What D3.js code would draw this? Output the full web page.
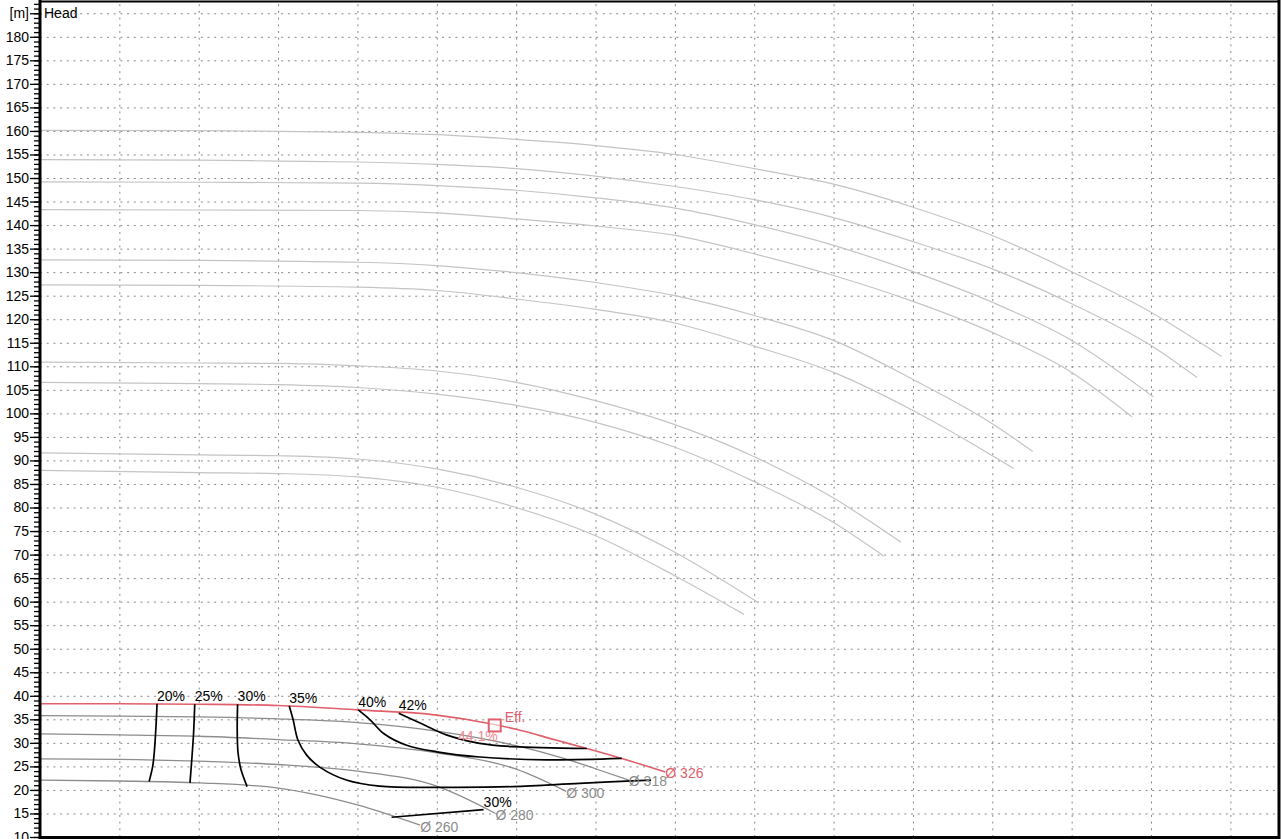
<!DOCTYPE html>
<html>
<head>
<meta charset="utf-8">
<script src="https://cdn.jsdelivr.net/npm/d3@7/dist/d3.min.js"></script>
<style>
body { margin: 0; background: #fff; }
text { font-family: "Liberation Sans", Arial, sans-serif; }
</style>
</head>
<body>
<script>
// pump curve data, [flow, head]
const headCurves = [
    [[0,160.1],[20,160.05],[30,159.9],[40,159.7],[50,159.2],[60,158.2],[70,156.9],[80,155],[90,152],[100,148.7],[110,143.8],[120,137.8],[130,130.1],[140,121.5],[148.9,112.1]],
    [[0,153.9],[20,153.8],[30,153.6],[40,153.4],[50,152.9],[60,152],[70,150.4],[80,148.2],[90,145.4],[100,141.6],[110,136.5],[120,130.7],[130,123.3],[140,114.4],[145.8,107.6]],
    [[0,149.2],[20,149.1],[40,148.9],[50,148.4],[60,147.4],[70,145.8],[80,143.6],[90,140.1],[100,135.7],[110,130.1],[120,123.6],[130,115.5],[140.3,103.5]],
    [[0,143.3],[20,143.2],[40,143.1],[50,142.6],[60,141.3],[70,139.8],[80,137.8],[90,133.9],[100,129.3],[110,123.8],[120,117.2],[130,108.7],[137.6,99.3]],
    [[0,132.6],[20,132.5],[40,132.1],[50,131.4],[60,129.9],[70,127.8],[80,125],[90,120.8],[100,115.5],[110,107.2],[120,97.8],[125.1,91.9]],
    [[0,127.3],[20,127.2],[40,126.8],[50,126.1],[60,124.3],[70,122.1],[80,119.2],[90,114.3],[100,108.7],[110,100.6],[116,95],[122.7,88.3]],
    [[0,110.9],[20,110.7],[30,110.6],[40,110.1],[50,109],[60,106.6],[70,102.7],[80,97.6],[90,90.8],[100,82],[108.5,72.6]],
    [[0,106.6],[20,106.3],[30,106.1],[40,105.5],[50,104.1],[60,101.7],[70,98.1],[80,92.8],[90,85.5],[100,76.8],[106.3,69.7]],
    [[0,91.6],[20,91.2],[30,91],[40,90.3],[50,88.2],[60,84.3],[70,78.6],[80,70.5],[90.5,59.8]],
    [[0,87.9],[20,87.4],[30,87.2],[40,86.5],[50,84.3],[60,80],[70,74],[80,65.5],[88.7,57.3]]
];

const diaNames = ["Ø 326", "Ø 318", "Ø 300", "Ø 280", "Ø 260"];
const diaCurves = [
    [[0,38.3],[10,38.3],[20,38.2],[30,37.95],[40,37],[50,35.9],[57.3,33.9],[60,32.9],[65,30.6],[68.9,28.8],[73.3,26.7],[78.8,23.8]],
    [[0,35.8],[10,35.7],[20,35.5],[30,35.1],[40,34.3],[50,32.5],[60,29.4],[66,26.7],[70,24.5],[74.2,22.1]],
    [[0,31.9],[10,31.7],[20,31.4],[30,30.7],[40,29.8],[50,27.9],[60,24.4],[66.3,19.7]],
    [[0,26.6],[10,26.5],[20,26.1],[30,25.4],[40,24],[50,20.8],[57.4,15.0]],
    [[0,22.1],[10,21.9],[20,21.5],[30,20.4],[35,18.9],[40,16.8],[47.9,12.5]]
];

// iso-efficiency lines; labelAt = index of the point carrying the label
const effNames = ["20%", "25%", "30%", "35%", "40%", "42%", "30%"];
const effLabelAt = [0, 0, 0, 0, 0, 0, 1];
const effLines = [
    [[14.75,38.3],[14.6,33],[14.4,28],[14.2,25],[13.75,21.8]],
    [[19.5,38.25],[19.35,32],[19.15,27],[18.9,21.5]],
    [[24.9,38.2],[24.85,33],[24.95,28],[25.3,24.5],[26.1,20.7]],
    [[31.4,37.9],[31.9,34.9],[32.5,30.6],[33.6,27.4],[35.3,24.8],[38.6,22.1],[42.8,20.8],[51.2,20.55],[59.6,20.7],[68,21.4],[77,22.1]],
    [[40.1,37],[41.6,34.9],[43.3,32],[46.2,29.5],[50,28.1],[55.4,27],[63.8,26.4],[73.3,26.7]],
    [[45.2,36.3],[47.9,34.2],[51.2,31.7],[55.4,29.9],[59.6,29.2],[68.9,28.8]],
    [[44.3,14.2],[55.9,15.8]]
];

const bestPoint = [57.3, 33.7];
const bestLabel = "44.1%";

const yTickValues = [10,15,20,25,30,35,40,45,50,55,60,65,70,75,80,85,90,95,100,105,110,115,120,125,130,135,140,145,150,155,160,165,170,175,180,185];
const xGridValues = [10,20,30,40,50,60,70,80,90,100,110,120,130,140,150];

const W = 1281, H = 839;
const red = "#e0606c";

const svg = d3.select("body").append("svg")
    .attr("width", W)
    .attr("height", H);

const x = d3.scaleLinear().domain([0, 156]).range([40, 1278]);
const y = d3.scaleLinear().domain([10, 187.5]).range([837, 1.5]);

// grid
svg.append("g")
    .attr("transform", "translate(40,0)")
    .call(d3.axisLeft(y).tickValues(yTickValues.slice(1)).tickSize(-(1278 - 40)).tickFormat(""))
    .call(g => g.select(".domain").remove())
    .selectAll("line")
    .attr("stroke", "#888")
    .attr("stroke-dasharray", "2,4.7");

svg.append("g")
    .attr("transform", "translate(0,837)")
    .call(d3.axisBottom(x).tickValues(xGridValues).tickSize(-(837 - 1.5)).tickFormat(""))
    .call(g => g.select(".domain").remove())
    .selectAll("line")
    .attr("stroke", "#888")
    .attr("stroke-dasharray", "2,4.7");

const lineX = d3.line().x(d => x(d[0])).y(d => y(d[1])).curve(d3.curveMonotoneX);
const lineC = d3.line().x(d => x(d[0])).y(d => y(d[1])).curve(d3.curveCatmullRom.alpha(0.5));

// head curves
svg.append("g").selectAll("path")
    .data(headCurves)
    .join("path")
    .attr("d", lineX)
    .attr("fill", "none")
    .attr("stroke", "#c4c4c4")
    .attr("stroke-width", 1.2);

// diameter curves
svg.append("g").selectAll("path")
    .data(diaCurves)
    .join("path")
    .attr("d", lineX)
    .attr("fill", "none")
    .attr("stroke", (d, i) => i == 0 ? red : "#8c8c8c")
    .attr("stroke-width", (d, i) => i == 0 ? 1.6 : 1.3);

// efficiency lines
svg.append("g").selectAll("path")
    .data(effLines)
    .join("path")
    .attr("d", lineC)
    .attr("fill", "none")
    .attr("stroke", "#000")
    .attr("stroke-width", 1.7);

svg.append("g").selectAll("text")
    .data(effLines)
    .join("text")
    .attr("x", (d, i) => x(d[effLabelAt[i]][0]))
    .attr("y", (d, i) => y(d[effLabelAt[i]][1]) - 3)
    .attr("font-size", 14)
    .attr("fill", "#000")
    .text((d, i) => effNames[i]);

// diameter labels at curve ends
svg.append("g").selectAll("text")
    .data(diaCurves)
    .join("text")
    .attr("x", d => x(d[d.length - 1][0]))
    .attr("y", d => y(d[d.length - 1][1]))
    .attr("dy", "0.45em")
    .attr("font-size", 14)
    .attr("fill", (d, i) => i == 0 ? red : "#8c8c8c")
    .text((d, i) => diaNames[i]);

// best efficiency point
svg.append("text")
    .attr("x", x(bestPoint[0]) + 3)
    .attr("y", y(bestPoint[1]) + 16)
    .attr("text-anchor", "end")
    .attr("font-size", 14)
    .attr("fill", "#ee8a92")
    .text(bestLabel);

svg.append("rect")
    .attr("x", x(bestPoint[0]) - 6)
    .attr("y", y(bestPoint[1]) - 6)
    .attr("width", 12)
    .attr("height", 12)
    .attr("fill", "#fff")
    .attr("fill-opacity", 0.6)
    .attr("stroke", red)
    .attr("stroke-width", 2);

svg.append("text")
    .attr("x", x(bestPoint[0]) + 10)
    .attr("y", y(bestPoint[1]) - 3)
    .attr("font-size", 14)
    .attr("fill", red)
    .text("Eff.");

// y axis: minor ruler ticks + labelled majors
svg.append("g")
    .attr("transform", "translate(40,0)")
    .call(d3.axisLeft(y).tickValues(d3.range(10, 188, 1)).tickSize(6).tickFormat(""))
    .call(g => g.select(".domain").remove())
    .selectAll("line").attr("stroke", "#000").attr("stroke-width", 1.3);

const yAxisG = svg.append("g")
    .attr("transform", "translate(40,0)")
    .call(d3.axisLeft(y).tickValues(yTickValues).tickSize(10).tickPadding(1)
        .tickFormat(d => d == 185 ? "[m]" : d));
yAxisG.select(".domain").remove();
yAxisG.selectAll("line").attr("stroke", "#000").attr("stroke-width", 1.3);
yAxisG.selectAll("text")
    .attr("font-family", "\"Liberation Sans\", Arial, sans-serif")
    .attr("font-size", 14)
    .attr("fill", "#000");

svg.append("text")
    .attr("x", 44)
    .attr("y", y(185) + 5)
    .attr("font-size", 14)
    .attr("fill", "#000")
    .text("Head");

// frame
svg.append("line").attr("x1", 40).attr("x2", 40).attr("y1", 0).attr("y2", H)
    .attr("stroke", "#000").attr("stroke-width", 3);
svg.append("line").attr("x1", 40).attr("x2", 1280).attr("y1", 1.5).attr("y2", 1.5)
    .attr("stroke", "#000").attr("stroke-width", 2);
svg.append("line").attr("x1", 1279).attr("x2", 1279).attr("y1", 0).attr("y2", H)
    .attr("stroke", "#000").attr("stroke-width", 3);
svg.append("line").attr("x1", 40).attr("x2", 1280).attr("y1", 837.5).attr("y2", 837.5)
    .attr("stroke", "#000").attr("stroke-width", 3);
</script>
</body>
</html>
